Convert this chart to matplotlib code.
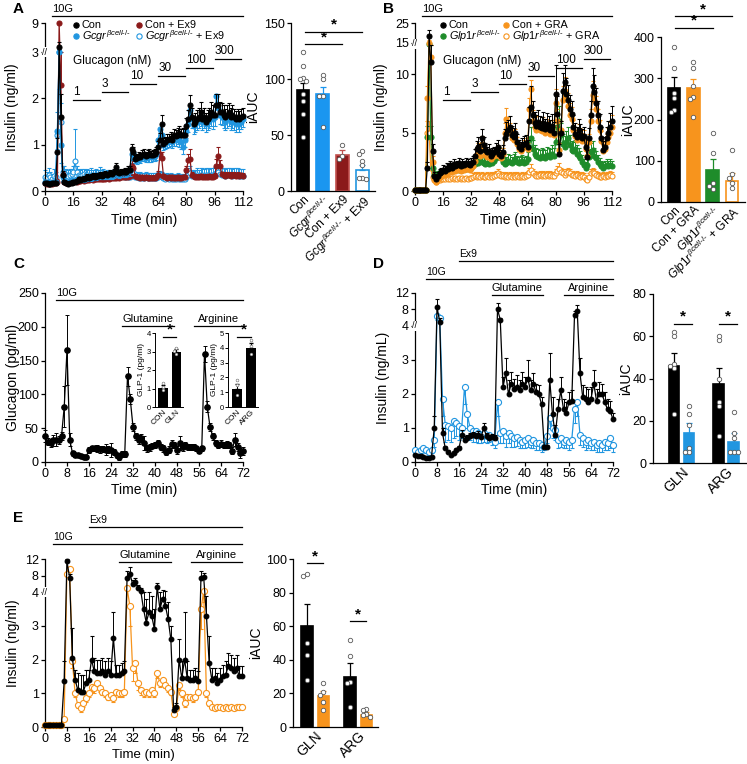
import numpy as np
import matplotlib
matplotlib.use('Agg')
import matplotlib.pyplot as plt

plt.rcParams['font.family'] = ['Liberation Sans', 'DejaVu Sans']
plt.rcParams['mathtext.fontset'] = 'custom'
plt.rcParams['mathtext.it'] = 'Liberation Sans:italic'
plt.rcParams['mathtext.rm'] = 'Liberation Sans'
plt.rcParams['mathtext.bf'] = 'Liberation Sans:bold'

# ---------------- data ----------------
# panel A, insulin (ng/ml), one point per minute 0..112
tA = list(range(113))
A_con = [0.17,0.17,0.16,0.16,0.17,0.17,0.18,0.85,4.0,1.6,
         0.35,0.2,0.17,0.15,0.17,0.18,0.2,0.2,0.22,0.25,
         0.24,0.25,0.27,0.28,0.3,0.28,0.3,0.32,0.3,0.32,
         0.33,0.35,0.33,0.35,0.37,0.35,0.36,0.38,0.37,0.4,
         0.52,0.4,0.38,0.4,0.4,0.42,0.42,0.45,0.45,0.9,
         0.85,0.7,0.72,0.75,0.74,0.78,0.8,0.75,0.78,0.8,
         0.77,0.78,0.8,0.85,0.95,1.1,1.45,1.02,1.05,1.1,
         1.12,1.15,1.1,1.2,1.18,1.22,1.25,1.2,1.22,1.2,
         1.4,1.55,1.85,1.6,1.45,1.5,1.55,1.6,1.7,1.55,
         1.6,1.5,1.55,1.6,1.7,1.65,1.65,1.85,1.85,1.7,
         1.7,1.65,1.6,1.65,1.7,1.6,1.65,1.6,1.55,1.6,
         1.55,1.6,1.62]
A_con_err = [0.02,0.02,0.02,0.02,0.02,0.02,0.02,0.3,1.0,0.5,
             0.08,0.03,0.03,0.03,0.03,0.04,0.04,0.04,0.04,0.05,
             0.05,0.05,0.05,0.05,0.06,0.05,0.06,0.06,0.05,0.06,
             0.06,0.06,0.06,0.06,0.07,0.06,0.06,0.07,0.06,0.07,
             0.08,0.07,0.06,0.07,0.07,0.07,0.07,0.08,0.08,0.12,
             0.1,0.08,0.08,0.1,0.08,0.1,0.1,0.09,0.1,0.1,
             0.1,0.1,0.1,0.1,0.12,0.15,0.2,0.12,0.12,0.13,
             0.12,0.13,0.13,0.14,0.13,0.14,0.15,0.14,0.14,0.15,
             0.18,0.2,0.22,0.2,0.18,0.18,0.2,0.2,0.22,0.2,
             0.2,0.18,0.2,0.2,0.22,0.2,0.2,0.25,0.25,0.22,
             0.2,0.2,0.18,0.2,0.2,0.2,0.2,0.18,0.18,0.18,
             0.18,0.17,0.17]
A_gcgr = [0.2,0.2,0.19,0.18,0.2,0.19,0.2,1.3,3.0,1.0,
          0.3,0.22,0.2,0.2,0.21,0.22,0.23,0.24,0.25,0.25,
          0.26,0.27,0.26,0.28,0.29,0.3,0.29,0.3,0.31,0.3,
          0.32,0.33,0.32,0.34,0.33,0.35,0.34,0.36,0.35,0.37,
          0.45,0.38,0.37,0.38,0.4,0.39,0.4,0.42,0.43,0.8,
          0.82,0.7,0.68,0.72,0.7,0.74,0.75,0.72,0.74,0.75,
          0.73,0.74,0.76,0.8,1.1,1.35,1.2,1.0,1.02,1.05,
          1.08,1.1,1.05,1.12,1.1,1.15,1.1,1.05,0.95,1.1,
          1.3,1.45,1.75,1.55,1.4,1.45,1.5,1.55,1.6,1.5,
          1.55,1.45,1.5,1.55,1.6,1.55,1.6,2.05,1.8,1.65,
          1.6,1.55,1.5,1.55,1.6,1.5,1.55,1.5,1.45,1.5,
          1.45,1.5,1.55]
A_gcgr_err = [0.05,0.05,0.05,0.05,0.05,0.05,0.05,0.4,0.8,0.4,
              0.08,0.05,0.05,0.05,0.05,0.05,0.05,0.05,0.06,0.06,
              0.06,0.06,0.06,0.06,0.07,0.07,0.07,0.07,0.07,0.07,
              0.07,0.07,0.07,0.08,0.07,0.08,0.08,0.08,0.08,0.08,
              0.1,0.08,0.08,0.08,0.09,0.09,0.09,0.1,0.1,0.12,
              0.12,0.1,0.1,0.1,0.1,0.1,0.1,0.1,0.12,0.12,
              0.1,0.1,0.12,0.12,0.15,0.15,0.15,0.12,0.12,0.12,
              0.13,0.13,0.13,0.14,0.13,0.14,0.14,0.14,0.15,0.15,
              0.15,0.18,0.2,0.18,0.17,0.17,0.18,0.18,0.2,0.18,
              0.18,0.18,0.18,0.18,0.2,0.2,0.2,0.22,0.2,0.2,
              0.18,0.18,0.18,0.18,0.2,0.18,0.18,0.18,0.17,0.17,
              0.17,0.17,0.17]
A_ex9 = [0.17,0.16,0.16,0.17,0.16,0.17,0.17,0.2,9.0,2.3,
         0.35,0.2,0.18,0.18,0.19,0.2,0.2,0.21,0.2,0.22,
         0.22,0.23,0.22,0.24,0.23,0.24,0.25,0.24,0.25,0.26,
         0.25,0.26,0.27,0.26,0.27,0.28,0.27,0.28,0.29,0.28,
         0.29,0.3,0.29,0.3,0.3,0.31,0.3,0.31,0.32,0.55,
         0.5,0.32,0.3,0.3,0.29,0.3,0.29,0.3,0.28,0.29,
         0.28,0.29,0.28,0.3,0.35,0.8,0.72,0.32,0.3,0.29,
         0.3,0.29,0.3,0.28,0.29,0.3,0.29,0.28,0.3,0.3,
         0.45,0.66,0.7,0.35,0.32,0.3,0.31,0.3,0.32,0.31,
         0.3,0.31,0.3,0.32,0.3,0.31,0.32,0.55,0.76,0.55,
         0.36,0.34,0.33,0.35,0.34,0.33,0.35,0.34,0.33,0.34,
         0.33,0.34,0.33]
A_ex9_err = [0.02,0.02,0.02,0.02,0.02,0.02,0.02,0.05,0.0,0.8,
             0.06,0.03,0.03,0.03,0.03,0.03,0.03,0.03,0.03,0.04,
             0.04,0.04,0.04,0.04,0.04,0.04,0.04,0.04,0.04,0.04,
             0.04,0.04,0.04,0.04,0.04,0.04,0.04,0.04,0.04,0.04,
             0.04,0.04,0.04,0.04,0.04,0.04,0.04,0.04,0.05,0.12,
             0.1,0.05,0.05,0.05,0.05,0.05,0.05,0.05,0.05,0.05,
             0.05,0.05,0.05,0.05,0.08,0.15,0.12,0.05,0.05,0.05,
             0.05,0.05,0.05,0.05,0.05,0.05,0.05,0.05,0.05,0.05,
             0.1,0.15,0.2,0.06,0.05,0.05,0.05,0.05,0.05,0.05,
             0.05,0.05,0.05,0.05,0.05,0.05,0.06,0.15,0.2,0.12,
             0.06,0.06,0.05,0.06,0.06,0.05,0.06,0.06,0.05,0.06,
             0.05,0.05,0.05]
A_open = [0.3,0.28,0.35,0.3,0.25,0.32,0.3,1.2,3.0,1.5,
          0.4,0.38,0.35,0.33,0.35,0.36,0.4,0.64,0.4,0.35,
          0.33,0.35,0.36,0.34,0.35,0.33,0.35,0.34,0.33,0.35,
          0.34,0.36,0.33,0.35,0.32,0.34,0.33,0.32,0.34,0.33,
          0.32,0.33,0.31,0.32,0.33,0.31,0.32,0.3,0.31,0.45,
          0.4,0.3,0.3,0.29,0.3,0.28,0.29,0.3,0.28,0.29,
          0.28,0.29,0.28,0.29,0.3,0.32,0.3,0.28,0.27,0.28,
          0.27,0.28,0.27,0.26,0.27,0.28,0.26,0.27,0.26,0.27,
          0.3,0.35,0.38,0.33,0.32,0.33,0.34,0.33,0.35,0.34,
          0.33,0.35,0.34,0.33,0.35,0.34,0.36,0.38,0.4,0.36,
          0.34,0.35,0.33,0.34,0.35,0.34,0.33,0.34,0.35,0.34,
          0.33,0.32,0.33]
A_open_err = [0.15,0.12,0.15,0.12,0.12,0.15,0.12,0.5,0.6,0.4,
              0.15,0.15,0.12,0.12,0.12,0.12,0.15,0.7,0.15,0.12,
              0.12,0.12,0.12,0.12,0.12,0.12,0.15,0.12,0.12,0.12,
              0.12,0.15,0.12,0.12,0.12,0.12,0.12,0.12,0.12,0.12,
              0.12,0.12,0.1,0.1,0.12,0.1,0.1,0.1,0.1,0.15,
              0.15,0.1,0.1,0.1,0.1,0.1,0.1,0.1,0.1,0.1,
              0.1,0.1,0.1,0.1,0.1,0.12,0.12,0.1,0.1,0.1,
              0.1,0.1,0.1,0.1,0.1,0.1,0.1,0.1,0.1,0.1,
              0.12,0.15,0.15,0.12,0.12,0.12,0.15,0.12,0.15,0.15,
              0.15,0.15,0.15,0.15,0.15,0.15,0.15,0.18,0.18,0.15,
              0.15,0.15,0.15,0.15,0.15,0.15,0.15,0.15,0.15,0.15,
              0.15,0.15,0.15]

# panel A bars (iAUC)
A_bar_vals = [90, 87, 32, 19]
A_bar_err = [6, 6, 5, 4]
A_bar_pts = [[124, 112, 101, 100, 98, 87, 80, 69, 48],
             [104, 100, 85, 85, 57],
             [41, 31, 29],
             [36, 33, 27, 23, 12, 12, 11]]

# panel B, insulin (ng/ml)
tB = list(range(113))
B_con = [0.05,0.05,0.05,0.05,0.05,0.05,0.1,2.0,18.5,11.0,
         3.4,1.3,1.0,1.3,1.5,1.6,1.8,1.7,2.0,1.9,
         2.2,2.0,2.3,2.1,2.2,2.4,2.1,2.3,2.2,2.4,
         2.3,2.2,2.4,2.5,3.0,3.6,3.8,3.4,4.5,3.9,
         3.5,3.3,3.4,3.0,3.2,3.3,3.5,3.8,3.2,3.0,
         3.3,4.5,4.9,5.2,5.5,4.8,4.6,5.0,4.2,3.8,
         3.6,3.9,4.0,4.1,3.8,6.0,7.2,6.5,5.8,5.6,
         5.9,5.5,5.4,5.8,5.3,5.7,5.5,5.2,5.6,5.0,
         8.3,6.6,3.2,5.0,8.6,9.3,8.3,7.8,7.0,6.6,
         5.5,4.9,4.6,5.2,4.8,4.5,4.7,3.8,2.9,4.5,
         6.5,9.0,8.5,7.5,6.5,5.5,4.5,3.5,3.8,4.5,
         5.0,5.5,6.0]
B_con_err = [0.02,0.02,0.02,0.02,0.02,0.02,0.05,0.5,3.0,1.5,
             0.6,0.3,0.3,0.3,0.4,0.4,0.4,0.4,0.4,0.4,
             0.4,0.4,0.4,0.4,0.4,0.4,0.4,0.4,0.4,0.4,
             0.4,0.4,0.4,0.5,0.6,0.7,0.8,0.6,0.8,0.7,
             0.6,0.5,0.6,0.5,0.5,0.5,0.6,0.6,0.5,0.5,
             0.6,0.8,1.0,0.9,0.9,0.8,0.8,0.8,0.7,0.6,
             0.6,0.6,0.7,0.7,0.6,1.2,1.8,1.2,1.0,0.9,
             1.0,0.9,0.9,1.0,0.9,1.0,0.9,0.9,1.0,0.9,
             2.5,1.5,0.8,1.0,1.5,1.5,1.4,1.3,1.2,1.1,
             1.0,0.9,0.9,1.0,0.9,0.8,0.8,0.7,0.6,0.9,
             1.2,1.5,1.4,1.3,1.2,1.1,1.0,0.8,0.8,1.0,
             1.0,1.2,1.3]
B_gra = [0.05,0.05,0.05,0.05,0.05,0.05,0.1,8.0,15.0,11.5,
         2.5,1.0,0.8,1.0,1.2,1.3,1.4,1.4,1.6,1.5,
         1.7,1.6,1.8,1.7,1.8,1.9,1.7,1.9,1.8,1.9,
         1.9,1.8,2.0,2.1,2.6,3.2,3.5,3.0,4.0,3.5,
         3.1,2.9,3.0,2.7,2.9,3.0,3.2,3.4,3.0,2.8,
         3.2,5.0,6.2,5.5,5.0,4.5,4.4,4.6,4.0,3.6,
         3.4,3.6,3.8,3.9,3.6,7.0,8.7,6.0,5.5,5.2,
         5.6,5.2,5.1,5.5,5.0,5.4,5.2,4.9,5.3,4.8,
         7.5,6.0,3.5,5.2,7.8,8.6,8.0,7.3,6.5,6.2,
         5.2,4.7,4.4,4.9,4.6,4.3,4.5,3.6,3.0,4.2,
         6.0,8.2,7.8,7.0,6.0,5.2,4.3,3.4,3.6,4.2,
         4.6,5.0,5.5]
B_gra_err = [0.02,0.02,0.02,0.02,0.02,0.02,0.05,1.0,1.5,1.0,
             0.5,0.2,0.2,0.2,0.3,0.3,0.3,0.3,0.3,0.3,
             0.3,0.3,0.3,0.3,0.3,0.3,0.3,0.3,0.3,0.3,
             0.3,0.3,0.3,0.4,0.5,0.6,0.6,0.5,0.7,0.6,
             0.5,0.5,0.5,0.4,0.5,0.5,0.5,0.5,0.5,0.4,
             0.5,0.8,0.9,0.8,0.8,0.7,0.7,0.7,0.6,0.6,
             0.5,0.5,0.6,0.6,0.5,1.0,0.8,0.9,0.8,0.8,
             0.8,0.8,0.8,0.8,0.8,0.8,0.8,0.8,0.8,0.8,
             1.2,1.0,0.6,0.8,1.2,1.2,1.1,1.1,1.0,1.0,
             0.9,0.8,0.8,0.8,0.8,0.7,0.7,0.6,0.5,0.7,
             1.0,1.2,1.2,1.1,1.0,0.9,0.8,0.6,0.6,0.7,
             0.8,0.9,1.0]
B_glp = [0.05,0.05,0.05,0.05,0.05,0.05,0.1,4.6,14.0,4.6,
         2.0,1.4,1.3,1.4,1.5,1.5,1.6,1.7,1.6,1.8,
         1.7,1.8,1.9,1.8,1.9,1.8,1.9,1.8,1.9,1.9,
         2.0,1.9,2.0,2.2,2.3,2.5,2.4,2.6,2.5,2.4,
         2.3,2.4,2.3,2.5,2.4,2.6,2.8,3.0,3.1,2.8,
         2.5,2.3,2.4,2.6,2.5,2.4,2.6,2.7,2.5,2.4,
         2.5,2.6,2.4,2.5,2.7,3.8,4.5,3.6,3.2,3.0,
         2.9,2.8,3.0,2.9,2.8,3.1,3.0,2.9,3.2,3.0,
         4.2,5.5,6.0,4.8,4.0,3.8,4.2,4.5,3.9,3.5,
         3.4,3.6,3.2,3.0,2.8,2.5,2.2,2.0,2.2,2.9,
         3.3,3.5,3.0,2.8,2.5,2.3,2.1,2.0,2.1,2.2,
         2.1,2.2,2.1]
B_glp_err = [0.02,0.02,0.02,0.02,0.02,0.02,0.05,1.0,1.5,1.0,
             0.5,0.3,0.3,0.3,0.3,0.3,0.3,0.3,0.3,0.3,
             0.3,0.3,0.3,0.3,0.3,0.3,0.3,0.3,0.3,0.3,
             0.3,0.3,0.4,0.4,0.4,0.5,0.5,0.5,0.5,0.5,
             0.5,0.5,0.5,0.5,0.5,0.5,0.6,0.7,0.7,0.6,
             0.5,0.5,0.5,0.6,0.6,0.5,0.6,0.6,0.5,0.5,
             0.5,0.5,0.5,0.5,0.6,0.8,1.0,0.8,0.7,0.7,
             0.7,0.7,0.7,0.7,0.7,0.7,0.7,0.7,0.7,0.7,
             0.9,1.1,1.3,1.0,0.9,0.9,0.9,1.0,0.9,0.8,
             0.8,0.8,0.7,0.7,0.6,0.6,0.5,0.5,0.5,0.7,
             0.8,0.8,0.7,0.6,0.6,0.5,0.5,0.5,0.5,0.5,
             0.5,0.5,0.5]
B_open = [0.05,0.05,0.05,0.05,0.05,0.05,0.1,5.0,5.0,2.0,
          1.2,0.9,0.8,0.9,0.9,1.0,1.0,1.0,1.1,1.0,
          1.0,1.1,1.0,1.1,1.0,1.1,1.0,1.1,1.0,1.1,
          1.0,1.1,1.1,1.2,1.3,1.2,1.3,1.2,1.3,1.2,
          1.2,1.3,1.2,1.3,1.2,1.3,1.4,1.5,1.4,1.3,
          1.3,1.2,1.3,1.2,1.3,1.2,1.3,1.2,1.3,1.2,
          1.2,1.3,1.2,1.3,1.4,1.6,1.8,1.5,1.4,1.3,
          1.3,1.4,1.3,1.4,1.3,1.4,1.3,1.4,1.3,1.3,
          1.5,1.7,1.9,1.6,1.5,1.4,1.5,1.6,1.5,1.4,
          1.4,1.3,1.4,1.3,1.2,1.3,1.2,1.0,0.9,1.2,
          1.5,1.6,1.5,1.4,1.3,1.2,1.2,1.3,1.2,1.3,
          1.3,1.4,1.3]
B_open_err = [0.02,0.02,0.02,0.02,0.02,0.02,0.05,1.0,1.0,0.5,
              0.3,0.2,0.2,0.2,0.2,0.2,0.2,0.2,0.2,0.2,
              0.2,0.2,0.2,0.2,0.2,0.2,0.2,0.2,0.2,0.2,
              0.2,0.2,0.2,0.3,0.3,0.3,0.3,0.3,0.3,0.3,
              0.3,0.3,0.3,0.3,0.3,0.3,0.3,0.4,0.3,0.3,
              0.3,0.3,0.3,0.3,0.3,0.3,0.3,0.3,0.3,0.3,
              0.3,0.3,0.3,0.3,0.3,0.4,0.5,0.4,0.3,0.3,
              0.3,0.3,0.3,0.3,0.3,0.3,0.3,0.3,0.3,0.3,
              0.4,0.4,0.5,0.4,0.4,0.3,0.4,0.4,0.4,0.3,
              0.3,0.3,0.3,0.3,0.3,0.3,0.3,0.3,0.3,0.3,
              0.4,0.4,0.4,0.3,0.3,0.3,0.3,0.3,0.3,0.3,
              0.3,0.3,0.3]

B_bar_vals = [276, 276, 78, 50]
B_bar_err = [27, 22, 26, 20]
B_bar_pts = [[376, 325, 265, 251, 224, 218],
             [340, 325, 281, 255, 249, 207],
             [168, 119, 45, 39, 31],
             [126, 68, 59, 47, 33]]

# panel C, glucagon (pg/ml), 0..72 min
tC = list(range(73))
C_glc = [38,30,28,32,33,33,38,82,166,33,
         13,10,10,9,8,8,18,20,20,20,
         19,19,18,19,18,15,10,8,12,12,
         127,93,52,38,33,35,28,20,22,24,
         25,28,22,20,15,18,27,25,18,28,
         22,25,22,22,22,20,17,20,160,82,
         52,38,28,25,27,25,26,25,17,33,
         22,13,16]
C_glc_err = [9,5,6,8,10,6,6,30,52,10,
             4,3,3,3,3,3,4,4,4,5,
             5,4,8,5,10,4,4,5,4,5,
             14,7,6,5,7,6,10,5,5,4,
             4,4,4,5,4,5,6,5,6,10,
             5,4,4,4,4,4,4,4,12,8,
             6,5,5,5,5,5,5,5,5,10,
             6,7,6]
C_in1_vals = [1.05, 3.0]
C_in1_err = [0.15, 0.12]
C_in1_pts = [[1.3, 1.1, 0.9], [3.2, 3.05, 2.85]]
C_in2_vals = [1.25, 4.0]
C_in2_err = [0.3, 0.3]
C_in2_pts = [[1.8, 1.5, 0.8], [4.5, 4.1, 3.6]]

# panel D, insulin (ng/mL), 0..72 min
tD = list(range(73))
D_con = [0.2,0.18,0.17,0.15,0.13,0.13,0.15,1.0,8.5,5.0,
         0.85,0.4,0.3,0.22,0.25,0.35,0.4,0.8,0.65,0.7,
         0.75,0.78,0.75,0.8,0.72,1.0,0.75,0.7,0.72,0.7,
         8.0,5.5,2.2,2.6,2.0,2.3,2.15,2.2,2.1,2.3,
         2.2,2.45,2.1,2.3,2.05,2.0,1.7,0.45,0.45,2.4,
         1.4,0.8,1.55,2.1,1.55,1.45,1.75,1.8,6.5,7.5,
         2.6,1.9,1.85,1.75,1.85,2.3,1.8,2.0,2.0,1.75,
         1.55,1.5,1.25]
D_con_err = [0.03,0.03,0.03,0.03,0.03,0.03,0.03,0.35,2.0,1.0,
             0.15,0.06,0.06,0.05,0.06,0.07,0.08,0.15,0.1,0.1,
             0.1,0.1,0.1,0.1,0.1,0.15,0.1,0.1,0.1,0.1,
             1.5,0.5,0.3,0.45,0.4,0.35,0.3,0.35,0.3,0.35,
             0.3,0.55,0.3,0.3,0.25,0.25,0.2,0.05,0.05,0.8,
             0.5,0.3,0.3,0.4,0.3,0.3,0.3,0.3,1.0,1.5,
             0.45,0.35,0.35,0.4,0.35,0.4,0.35,0.35,0.3,0.3,
             0.3,0.3,0.2]
D_ex9 = [0.35,0.3,0.35,0.4,0.35,0.3,0.35,0.65,6.3,6.0,
         1.85,1.1,1.05,1.0,1.2,1.15,1.05,1.0,2.2,1.4,
         1.0,0.9,0.9,0.85,0.8,0.85,0.75,0.8,0.7,0.6,
         1.75,0.85,0.9,0.75,0.85,0.75,0.7,0.72,0.65,0.6,
         0.65,0.7,0.6,0.65,0.55,0.55,0.5,0.45,0.75,1.3,
         1.0,0.95,0.65,0.7,0.6,0.65,0.6,0.65,1.55,1.75,
         0.8,0.7,0.6,0.65,0.55,0.6,0.5,0.55,0.5,0.6,
         0.55,0.7,0.5]
D_ex9_err = [0.08,0.08,0.08,0.08,0.08,0.08,0.08,0.2,1.0,1.0,
             0.5,0.5,0.4,0.4,0.5,0.4,0.4,0.3,0.5,0.4,
             0.35,0.3,0.3,0.3,0.25,0.25,0.2,0.2,0.2,0.2,
             0.4,0.3,0.35,0.3,0.3,0.3,0.25,0.25,0.25,0.2,
             0.25,0.25,0.2,0.25,0.2,0.2,0.2,0.1,0.2,0.3,
             0.3,0.3,0.25,0.25,0.2,0.25,0.25,0.25,0.4,0.4,
             0.3,0.25,0.25,0.25,0.2,0.25,0.2,0.25,0.2,0.25,
             0.2,0.3,0.2]
D_bar_vals = [46, 14, 37.5, 10]
D_bar_err = [6, 5, 7.5, 4]
D_bar_pts = [[62, 60, 47, 46, 45, 23],
             [27, 23, 18, 7, 5, 5],
             [58, 60, 40, 29, 27, 13],
             [24, 14, 12, 5, 5, 5]]

# panel E, insulin (ng/ml), 0..72 min
tE = list(range(73))
E_con = [0.05,0.05,0.05,0.05,0.05,0.05,0.05,1.35,11.5,7.5,
         2.05,1.4,1.1,1.05,1.05,1.3,1.4,2.0,1.65,1.6,
         1.6,1.65,1.55,1.65,1.55,2.65,1.55,1.55,1.6,1.65,
         7.5,8.5,6.0,6.5,5.0,4.3,3.5,3.1,3.4,3.3,
         2.9,5.3,3.5,3.8,3.6,3.2,2.6,0.5,0.6,2.0,
         1.45,2.0,1.45,1.4,1.4,1.45,1.35,7.5,7.6,3.3,
         1.9,1.4,1.45,1.3,1.4,1.5,1.55,1.8,1.75,1.65,
         1.75,1.5,1.5]
E_con_err = [0.02,0.02,0.02,0.02,0.02,0.02,0.02,0.6,0.5,1.0,
             0.9,0.3,0.5,0.5,0.5,0.4,0.3,0.7,0.4,0.4,
             0.4,0.4,0.4,0.4,0.4,0.75,0.3,0.3,0.3,0.3,
             1.5,1.5,1.0,1.0,0.8,0.6,0.6,0.7,0.6,0.6,
             0.6,1.0,0.5,0.7,0.6,0.5,0.4,0.1,0.1,0.6,
             0.5,1.4,0.5,0.3,0.3,0.3,0.3,1.5,1.0,0.6,
             0.8,0.35,0.3,0.3,0.35,0.35,0.4,0.4,0.4,0.4,
             0.4,0.3,0.3]
E_ex9 = [0.05,0.05,0.05,0.05,0.05,0.05,0.05,0.25,8.5,9.5,
         1.95,1.0,0.65,0.55,0.7,0.85,1.0,1.2,1.15,1.3,
         1.15,1.05,1.0,0.9,0.95,0.85,1.05,1.0,1.0,1.05,
         5.0,3.6,1.75,1.9,1.3,1.1,1.0,1.05,1.0,1.1,
         1.0,1.6,1.3,1.4,1.25,1.15,1.05,0.4,0.55,1.25,
         1.0,0.7,0.9,0.9,0.85,0.9,1.05,3.5,4.2,1.0,
         0.7,0.6,0.55,0.6,0.6,0.55,0.6,0.55,0.6,0.55,
         0.6,0.6,0.6]
E_ex9_err = [0.02,0.02,0.02,0.02,0.02,0.02,0.02,0.05,0.5,0.5,
             0.2,0.1,0.1,0.1,0.1,0.1,0.1,0.15,0.15,0.15,
             0.1,0.1,0.1,0.1,0.1,0.1,0.1,0.1,0.1,0.1,
             0.5,0.6,0.4,0.3,0.2,0.15,0.1,0.1,0.1,0.1,
             0.1,0.15,0.1,0.1,0.1,0.1,0.1,0.05,0.05,0.15,
             0.1,0.1,0.1,0.1,0.1,0.1,0.1,0.6,0.5,0.1,
             0.08,0.05,0.05,0.05,0.05,0.05,0.05,0.05,0.05,0.05,
             0.05,0.05,0.05]
E_bar_vals = [60, 18.5, 30, 7]
E_bar_err = [13, 3, 8, 2]
E_bar_pts = [[91, 90, 50, 43, 28],
             [26, 21, 19, 15, 10],
             [52, 42, 27, 26, 12],
             [11, 10, 8, 7, 6]]

# ---------------- drawing ----------------
BLUE = '#2196e0'
RED = '#8b1a1a'
ORANGE = '#f7941d'
GREEN = '#1e8c2a'
GCGR = r'$Gcgr^{\beta cell‐/‐}$'
GLP = r'$Glp1r^{\beta cell‐/‐}$'

W, H = 747, 764
fig = plt.figure(figsize=(W / 100, H / 100), dpi=100)


def add_ax(x0, y0, x1, y1):
    return fig.add_axes([x0 / W, 1 - y1 / H, (x1 - x0) / W, (y1 - y0) / H])


def style(ax, fs=9):
    ax.spines['top'].set_visible(False)
    ax.spines['right'].set_visible(False)
    for s in ('left', 'bottom'):
        ax.spines[s].set_linewidth(0.9)
    ax.tick_params(length=3, width=0.9, labelsize=fs, pad=1.5)


def broken(ax, kd, ku):
    ax.set_yscale('function', functions=(lambda y: np.interp(y, kd, ku),
                                         lambda u: np.interp(u, ku, kd)))


def brk_mark(ax, yb):
    ax.text(0, yb, '//', transform=ax.get_yaxis_transform(), ha='center', va='center',
            fontsize=6.5, bbox=dict(fc='white', ec='none', pad=0.3), zorder=5)


def series(ax, t, y, err, color, open_=False, down=False, ms=3.6, z=3):
    zero = [0] * len(err)
    yerr = [err, zero] if down else [zero, err]
    ax.errorbar(t, y, yerr=yerr, fmt='-o', color=color, mfc='white' if open_ else color,
                mec=color, ms=ms, lw=0.9, elinewidth=0.7, capsize=1.3, capthick=0.7,
                mew=0.8, clip_on=False, zorder=z)


def swarm(vals, thr, step):
    offs, placed = [], []
    for v in vals:
        for c in (0, -1, 1, -2, 2):
            if all(abs(v - pv) > thr or c != pc for pv, pc in placed):
                break
        placed.append((v, c))
        offs.append(c * step)
    return np.array(offs)


def bar_panel(ax, pos, vals, errs, faces, edges, pts, w, thr, step):
    ax.bar(pos, vals, width=w, color=faces, edgecolor=edges, linewidth=1.2, zorder=2)
    for p, v, e, c, pt in zip(pos, vals, errs, edges, pts):
        ax.errorbar([p], [v], yerr=[[0], [e]], fmt='none', ecolor=c, elinewidth=0.9,
                    capsize=2.2, capthick=0.9, zorder=3)
        ax.plot(p + swarm(pt, thr, step), pt, 'o', mfc='white', mec='0.35', ms=3.2,
                mew=0.6, zorder=4, clip_on=False)


def sig(ax, x0, x1, y):
    ax.plot([x0, x1], [y, y], color='k', lw=0.9, clip_on=False)
    ax.text((x0 + x1) / 2, y, '*', ha='center', va='bottom', fontsize=11, fontweight='bold')


def hline(ax, x0, x1, yf, label=None, where='left', fs=8):
    ax.plot([x0, x1], [yf, yf], transform=ax.get_xaxis_transform(), color='k', lw=0.9,
            clip_on=False)
    if label:
        xt = x0 if where == 'left' else (x0 + x1) / 2
        ax.text(xt, yf + 0.012, label, transform=ax.get_xaxis_transform(),
                ha='left' if where == 'left' else 'center', va='bottom', fontsize=fs)


def legend_item(ax, x, y, label, color, open_=False):
    ax.plot([x], [y], 'o', transform=ax.transAxes, ms=3.8, mec=color,
            mfc='white' if open_ else color, mew=0.8, clip_on=False)
    ax.text(x + 0.028, y, label, transform=ax.transAxes, va='center', ha='left', fontsize=7.8)


def time_axis(ax, tmax, step, ylab=-0.13, fs=10):
    ax.set_xlim(0, tmax)
    ax.set_xticks(range(0, tmax + 1, step))
    ax.set_xlabel('Time (min)', fontsize=fs)
    ax.xaxis.set_label_coords(0.5, ylab)


# ---- A ----
ax = add_ax(45, 23, 243, 191)
style(ax)
broken(ax, [-10, 3, 100], [-10, 3, 3 + 97 * 0.105])
series(ax, tA, A_open, A_open_err, BLUE, open_=True, z=2)
series(ax, tA, A_ex9, A_ex9_err, RED, z=3)
series(ax, tA, A_gcgr, A_gcgr_err, BLUE, down=True, z=4)
series(ax, tA, A_con, A_con_err, 'black', z=5)
ax.set_ylim(0, 9)
ax.set_yticks([0, 1, 2, 3, 9])
brk_mark(ax, 3)
time_axis(ax, 112, 16, -0.13)
ax.set_ylabel('Insulin (ng/ml)', fontsize=10)
ax.yaxis.set_label_coords(-0.13, 0.5)
hline(ax, 4, 112, 1.043, '10G')
ax.text(16, 0.774, 'Glucagon (nM)', transform=ax.get_xaxis_transform(), fontsize=8.5, va='center')
for (x0, x1), yf, lab in zip([(16, 31), (32, 47), (48, 63), (64, 79), (80, 95), (96, 111)],
                             [0.542, 0.589, 0.637, 0.685, 0.732, 0.786],
                             ['1', '3', '10', '30', '100', '300']):
    hline(ax, x0, x1, yf, lab, fs=8.5)
legend_item(ax, 0.157, 0.987, 'Con', 'black')
legend_item(ax, 0.475, 0.987, 'Con + Ex9', RED)
legend_item(ax, 0.157, 0.925, GCGR, BLUE)
legend_item(ax, 0.475, 0.925, GCGR + ' + Ex9', BLUE, open_=True)
fig.text(13 / W, 1 - 9 / H, 'A', fontsize=11, fontweight='bold', va='center')

ax = add_ax(291, 23, 375, 191)
style(ax)
bar_panel(ax, [0, 1, 2, 3], A_bar_vals, A_bar_err, ['black', '#1a96f0', RED, 'white'],
          ['black', '#1a96f0', '#c0504d', BLUE], A_bar_pts, 0.65, 3.5, 0.17)
ax.set_xlim(-0.61, 3.65)
ax.set_ylim(0, 150)
ax.set_yticks([0, 50, 100, 150])
ax.set_xticks([0, 1, 2, 3])
ax.set_xticklabels(['Con', GCGR, 'Con + Ex9', GCGR + ' + Ex9'], rotation=45, ha='right',
                   rotation_mode='anchor', fontsize=8.5)
ax.tick_params(axis='x', length=0)
ax.set_ylabel('iAUC', fontsize=10)
ax.yaxis.set_label_coords(-0.37, 0.5)
sig(ax, 0.1, 3, 142)
sig(ax, 0.1, 2, 131)

# ---- B ----
ax = add_ax(415, 23, 612, 191)
style(ax)
broken(ax, [-10, 12.5, 15, 100], [-10, 12.5, 12.67, 12.67 + 85 * 0.171])
series(ax, tB, B_open, B_open_err, ORANGE, open_=True, z=2)
series(ax, tB, B_glp, B_glp_err, GREEN, z=3)
series(ax, tB, B_gra, B_gra_err, ORANGE, z=4)
series(ax, tB, B_con, B_con_err, 'black', z=5)
ax.set_ylim(0, 25)
ax.set_yticks([0, 5, 10, 15, 25])
brk_mark(ax, 13.8)
time_axis(ax, 112, 16, -0.13)
ax.set_ylabel('Insulin (ng/ml)', fontsize=10)
ax.yaxis.set_label_coords(-0.137, 0.5)
hline(ax, 4, 112, 1.043, '10G')
ax.text(16, 0.774, 'Glucagon (nM)', transform=ax.get_xaxis_transform(), fontsize=8.5, va='center')
for (x0, x1), yf, lab in zip([(16, 31), (32, 47), (48, 63), (64, 79), (80, 95), (96, 111)],
                             [0.542, 0.589, 0.637, 0.685, 0.732, 0.786],
                             ['1', '3', '10', '30', '100', '300']):
    hline(ax, x0, x1, yf, lab, fs=8.5)
legend_item(ax, 0.144, 0.987, 'Con', 'black')
legend_item(ax, 0.462, 0.987, 'Con + GRA', ORANGE)
legend_item(ax, 0.144, 0.925, GLP, GREEN)
legend_item(ax, 0.462, 0.925, GLP + ' + GRA', ORANGE, open_=True)
fig.text(383 / W, 1 - 9 / H, 'B', fontsize=11, fontweight='bold', va='center')

ax = add_ax(661, 37, 745, 202)
style(ax)
bar_panel(ax, [0, 1, 2, 3], B_bar_vals, B_bar_err, ['black', ORANGE, GREEN, 'white'],
          ['black', ORANGE, GREEN, ORANGE], B_bar_pts, 0.65, 9, 0.17)
ax.set_xlim(-0.67, 3.68)
ax.set_ylim(0, 400)
ax.set_yticks([0, 100, 200, 300, 400])
ax.set_xticks([0, 1, 2, 3])
ax.set_xticklabels(['Con', 'Con + GRA', GLP, GLP + ' + GRA'], rotation=45, ha='right',
                   rotation_mode='anchor', fontsize=8.5)
ax.tick_params(axis='x', length=0)
ax.set_ylabel('iAUC', fontsize=10)
ax.yaxis.set_label_coords(-0.31, 0.5)
sig(ax, 0.05, 3, 450)
sig(ax, 0.05, 2, 422)

# ---- C ----
ax = add_ax(45, 293, 243, 462)
style(ax)
ax.errorbar(tC, C_glc, yerr=C_glc_err, fmt='-o', color='black', ms=3.8, lw=0.9,
            elinewidth=0.7, capsize=1.3, capthick=0.7, clip_on=False)
ax.set_ylim(0, 250)
ax.set_yticks([0, 50, 100, 150, 200, 250])
time_axis(ax, 72, 8, -0.125)
ax.set_ylabel('Glucagon (pg/ml)', fontsize=10)
ax.yaxis.set_label_coords(-0.126, 0.5)
hline(ax, 4, 72, 0.959, '10G')
hline(ax, 28, 47, 0.807, 'Glutamine', where='mid')
hline(ax, 54, 72, 0.807, 'Arginine', where='mid')
fig.text(13 / W, 1 - 264 / H, 'C', fontsize=11, fontweight='bold', va='center')

for (x0, x1), vals, errs, pts, lab, ymax in [((155, 183), C_in1_vals, C_in1_err, C_in1_pts, 'GLN', 4),
                                             ((228, 258), C_in2_vals, C_in2_err, C_in2_pts, 'ARG', 5)]:
    ia = add_ax(x0, 333, x1, 407)
    style(ia, fs=5.5)
    ia.tick_params(length=2, width=0.7, pad=1)
    for s in ('left', 'bottom'):
        ia.spines[s].set_linewidth(0.7)
    ia.bar([0, 1], vals, width=0.72, color='black', zorder=2)
    ia.errorbar([0, 1], vals, yerr=[[0, 0], errs], fmt='none', ecolor='black', elinewidth=0.7,
                capsize=1.5, zorder=3)
    for p, pt in zip([0, 1], pts):
        ia.plot(p + swarm(pt, ymax * 0.04, 0.18), pt, 'o', mfc='white', mec='0.4', ms=2,
                mew=0.4, zorder=4, clip_on=False)
    ia.set_ylim(0, ymax)
    ia.set_yticks(range(0, ymax + 1))
    ia.set_xlim(-0.62, 1.5)
    ia.set_xticks([0, 1])
    ia.set_xticklabels(['CON', lab], rotation=45, ha='right', rotation_mode='anchor', fontsize=6)
    ia.tick_params(axis='x', length=0)
    ia.set_ylabel('GLP-1 (pg/ml)', fontsize=6, labelpad=1)
    sig(ia, 0, 1, ymax * 0.95)

# ---- D ----
ax = add_ax(415, 293, 613, 462)
style(ax)
broken(ax, [-10, 4, 100], [-10, 4, 4 + 96 * 0.12])
series(ax, tD, D_ex9, D_ex9_err, BLUE, open_=True, down=True, ms=4.4, z=3)
series(ax, tD, D_con, D_con_err, 'black', ms=3.4, z=4)
ax.set_ylim(0, 12)
ax.set_yticks([0, 1, 2, 3, 4, 8, 12])
brk_mark(ax, 4)
time_axis(ax, 72, 8, -0.125)
ax.set_ylabel('Insulin (ng/mL)', fontsize=10)
ax.yaxis.set_label_coords(-0.127, 0.5)
hline(ax, 16, 72, 1.187, 'Ex9', fs=7.5)
hline(ax, 4, 72, 1.085, '10G', fs=7.5)
hline(ax, 28, 46.5, 0.99, 'Glutamine', where='mid')
hline(ax, 54, 72, 0.99, 'Arginine', where='mid')
fig.text(373 / W, 1 - 264 / H, 'D', fontsize=11, fontweight='bold', va='center')

ax = add_ax(653, 294, 747, 463)
style(ax)
bar_panel(ax, [0, 1, 3, 4], D_bar_vals, D_bar_err, ['black', BLUE, 'black', BLUE],
          ['black', BLUE, 'black', BLUE], D_bar_pts, 0.73, 1.8, 0.25)
ax.set_xlim(-1.4, 4.87)
ax.set_ylim(0, 80)
ax.set_yticks([0, 20, 40, 60, 80])
ax.set_xticks([0.5, 3.5])
ax.set_xticklabels(['GLN', 'ARG'], rotation=45, ha='right', rotation_mode='anchor', fontsize=10)
ax.tick_params(axis='x', length=0)
ax.set_ylabel('iAUC', fontsize=10)
ax.yaxis.set_label_coords(-0.21, 0.5)
sig(ax, 0, 1.2, 66)
sig(ax, 3, 4.2, 66)

# ---- E ----
ax = add_ax(45, 559, 242, 727)
style(ax)
broken(ax, [-10, 4, 100], [-10, 4, 4 + 96 * 0.123])
series(ax, tE, E_ex9, E_ex9_err, ORANGE, open_=True, down=True, ms=4.4, z=3)
series(ax, tE, E_con, E_con_err, 'black', ms=3.4, z=4)
ax.set_ylim(0, 12)
ax.set_yticks([0, 1, 2, 3, 4, 8, 12])
brk_mark(ax, 4)
time_axis(ax, 72, 8, -0.13, fs=9.5)
ax.set_ylabel('Insulin (ng/ml)', fontsize=10)
ax.yaxis.set_label_coords(-0.127, 0.5)
hline(ax, 16, 72, 1.191, 'Ex9', fs=7.5)
hline(ax, 3, 72, 1.087, '10G', fs=7.5)
hline(ax, 27, 46, 0.98, 'Glutamine', where='mid')
hline(ax, 53.5, 72, 0.98, 'Arginine', where='mid')
fig.text(13 / W, 1 - 518 / H, 'E', fontsize=11, fontweight='bold', va='center')

ax = add_ax(293, 559, 378, 727)
style(ax)
bar_panel(ax, [0, 1, 2.6, 3.6], E_bar_vals, E_bar_err, ['black', ORANGE, 'black', ORANGE],
          ['black', ORANGE, 'black', ORANGE], E_bar_pts, 0.7, 2.2, 0.2)
ax.set_xlim(-0.83, 4.3)
ax.set_ylim(0, 100)
ax.set_yticks([0, 20, 40, 60, 80, 100])
ax.set_xticks([0.5, 3.1])
ax.set_xticklabels(['GLN', 'ARG'], rotation=45, ha='right', rotation_mode='anchor', fontsize=10)
ax.tick_params(axis='x', length=0)
ax.set_ylabel('iAUC', fontsize=10)
ax.yaxis.set_label_coords(-0.35, 0.5)
sig(ax, 0, 1, 97.5)
sig(ax, 2.6, 3.6, 63)

fig.savefig('out.png', dpi=100)
